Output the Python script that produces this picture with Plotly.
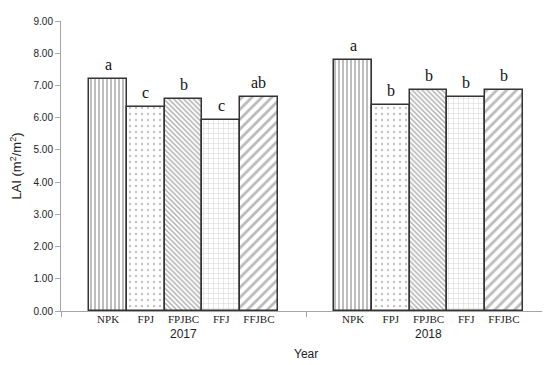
import plotly.graph_objects as go

years = ["2017", "2018"]
treatments = ["NPK", "FPJ", "FPJBC", "FFJ", "FFJBC"]
lai_2017 = [7.20, 6.33, 6.58, 5.93, 6.63]
lai_2018 = [7.80, 6.40, 6.87, 6.65, 6.86]
letters_2017 = ["a", "c", "b", "c", "ab"]
letters_2018 = ["a", "b", "b", "b", "b"]

values = [lai_2017, lai_2018]
letters = [letters_2017, letters_2018]

patterns = [
    dict(shape="|", size=4, solidity=0.35, fgcolor="#444444", bgcolor="white"),
    dict(shape=".", size=6, solidity=0.12, fgcolor="#888888", bgcolor="white"),
    dict(shape="\\", size=3.5, solidity=0.4, fgcolor="#555555", bgcolor="white"),
    dict(shape="+", size=5, solidity=0.2, fgcolor="#aaaaaa", bgcolor="white"),
    dict(shape="/", size=7, solidity=0.4, fgcolor="#777777", bgcolor="white"),
]

group_w = len(treatments) + 1.5
centers = [group_w * (g + 0.5) for g in range(len(years))]
xmax = group_w * len(years)

fig = go.Figure()
tick_x = []
tick_t = []
for i, t in enumerate(treatments):
    xs = [centers[g] + (i - (len(treatments) - 1) / 2) for g in range(len(years))]
    ys = [values[g][i] for g in range(len(years))]
    fig.add_trace(go.Bar(
        x=xs, y=ys, width=1,
        marker=dict(color="white", pattern=patterns[i],
                    line=dict(color="#333333", width=1.5)),
        showlegend=False, name=t,
    ))
    for g in range(len(years)):
        fig.add_annotation(x=xs[g], y=ys[g], text=letters[g][i], showarrow=False,
                           yanchor="bottom", yshift=4,
                           font=dict(family="Liberation Serif", size=16, color="#111"))

for g in range(len(years)):
    for i, t in enumerate(treatments):
        tick_x.append(centers[g] + (i - (len(treatments) - 1) / 2))
        tick_t.append(t)

fig.add_trace(go.Scatter(x=[0, xmax], y=[0, 0], mode="markers", marker=dict(opacity=0),
                         xaxis="x2", showlegend=False, hoverinfo="skip"))

for g, yr in enumerate(years):
    fig.add_annotation(x=centers[g], y=0, xref="x", yref="paper", text=yr,
                       showarrow=False, yanchor="top", yshift=-14,
                       font=dict(family="Liberation Sans", size=12, color="#222"))

fig.add_annotation(x=0.5, y=0, xref="paper", yref="paper", text="Year",
                   showarrow=False, yanchor="top", yshift=-34,
                   font=dict(family="Liberation Sans", size=12, color="#222"))

fig.update_layout(
    width=550, height=365,
    margin=dict(l=53, r=7, t=13, b=62),
    plot_bgcolor="white", paper_bgcolor="white",
    bargap=0,
    xaxis=dict(range=[0, xmax], showline=True, linecolor="#a6a6a6", linewidth=1,
               tickvals=[0, group_w, xmax], ticks="outside", ticklen=5,
               tickcolor="#a6a6a6", showticklabels=False, showgrid=False, zeroline=False),
    xaxis2=dict(range=[0, xmax], overlaying="x", side="bottom", anchor="y",
                tickvals=tick_x, ticktext=tick_t, ticks="", showline=False,
                showgrid=False, zeroline=False,
                tickfont=dict(family="Liberation Serif", size=11, color="#222")),
    yaxis=dict(range=[0, 9], dtick=1, tickformat=".2f", showline=True,
               linecolor="#a6a6a6", linewidth=1, ticks="outside", ticklen=5,
               tickcolor="#a6a6a6", showgrid=False, zeroline=False,
               tickfont=dict(family="Liberation Sans", size=10, color="#222"),
               title=dict(text="LAI (m<sup>2</sup>/m<sup>2</sup>)", standoff=8,
                          font=dict(family="Liberation Sans", size=13, color="#222"))),
)

fig.write_html("out.html")
